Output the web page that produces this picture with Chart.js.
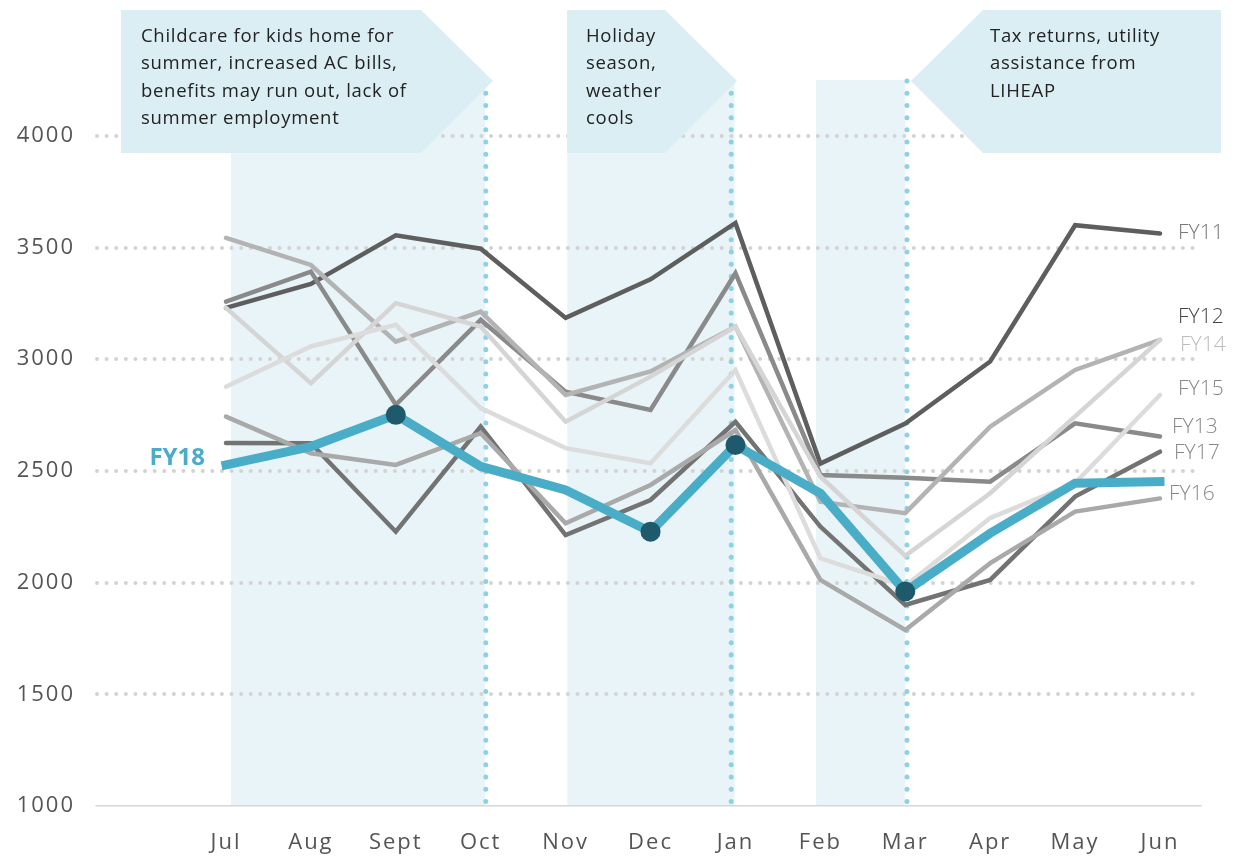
<!DOCTYPE html>
<html>
<head>
<meta charset="utf-8">
<title>Monthly requests FY11-FY18</title>
<script src="https://cdn.jsdelivr.net/npm/chart.js@4.4.1/dist/chart.umd.min.js"></script>
<style>
    html, body { margin: 0; padding: 0; background: #fff; }
    #wrap { width: 1236px; height: 858px; }
</style>
</head>
<body>
<div id="wrap"><canvas id="chart" width="1236" height="858"></canvas></div>
<script>
// Data
const months = ['Jul', 'Aug', 'Sept', 'Oct', 'Nov', 'Dec', 'Jan', 'Feb', 'Mar', 'Apr', 'May', 'Jun'];
const yTicks = [1000, 1500, 2000, 2500, 3000, 3500, 4000];

const fy11 = [3230, 3337, 3555, 3495, 3185, 3358, 3610, 2533, 2712, 2990, 3600, 3563];
const fy12 = [3543, 3422, 3079, 3213, 2840, 2945, 3146, 2362, 2311, 2698, 2952, 3087];
const fy13 = [3258, 3392, 2796, 3176, 2855, 2773, 3385, 2482, 2469, 2452, 2713, 2654];
const fy14 = [3230, 2893, 3251, 3146, 2720, 2922, 3146, 2475, 2120, 2400, 2744, 3087];
const fy15 = [2877, 3057, 3154, 2781, 2602, 2534, 2952, 2109, 1985, 2289, 2446, 2840];
const fy16 = [2743, 2579, 2527, 2669, 2266, 2437, 2683, 2012, 1788, 2087, 2318, 2377];
const fy17 = [2625, 2624, 2228, 2698, 2213, 2370, 2720, 2251, 1900, 2012, 2385, 2586];
const fy18 = [2527, 2609, 2751, 2520, 2415, 2228, 2616, 2400, 1960, 2221, 2445, 2452];
const fy18Marked = ['Sept', 'Dec', 'Jan', 'Mar'];

const FONT = '"Open Sans", "Noto Sans", sans-serif';

// Shaded periods and dotted markers (in x-axis units)
const bands = [
    { from: 0.06, to: 3.05 },
    { from: 4.02, to: 5.99 },
    { from: 6.95, to: 8.0 }
];
const markers = [3.06, 5.95, 8.02];

const callouts = [
    { pts: [[121, 10], [421, 10], [493, 81], [421, 153], [121, 153]], x: 141,
      lines: ['Childcare for kids home for', 'summer, increased AC bills,', 'benefits may run out, lack of', 'summer employment'] },
    { pts: [[567, 10], [665, 10], [737, 81], [665, 153], [567, 153]], x: 586,
      lines: ['Holiday', 'season,', 'weather', 'cools'] },
    { pts: [[911, 81], [983, 10], [1221, 10], [1221, 153], [983, 153]], x: 990,
      lines: ['Tax returns, utility', 'assistance from', 'LIHEAP'] }
];

function series(label, values, color, labelColor, dx, dy) {
    return {
        label: label,
        data: values.map((v, i) => ({ x: i, y: v })),
        borderColor: color,
        borderWidth: 4.5,
        borderCapStyle: 'round',
        pointRadius: 0,
        tension: 0,
        order: 1,
        endLabel: { color: labelColor, dx: dx, dy: dy }
    };
}

const datasets = [
    {
        label: 'FY18',
        data: fy18.map((v, i) => ({ x: i, y: v })),
        borderColor: '#4aadc7',
        borderWidth: 9,
        borderCapStyle: 'square',
        pointRadius: ctx => fy18Marked.includes(months[ctx.dataIndex]) ? 10 : 0,
        pointBackgroundColor: '#1e5a6b',
        pointBorderWidth: 0,
        tension: 0,
        order: 0
    },
    series('FY15', fy15, '#dcdcdc', '#888', 18, -6),
    series('FY14', fy14, '#d5d5d5', '#bdbdbd', 20, 5),
    series('FY12', fy12, '#b3b3b3', '#444', 18, -23),
    series('FY16', fy16, '#a9a9a9', '#888', 9, -4),
    series('FY13', fy13, '#8a8a8a', '#888', 12, -10),
    series('FY17', fy17, '#737373', '#888', 14, 1),
    series('FY11', fy11, '#5e5e5e', '#777', 18, 0)
];

const backdrop = {
    id: 'backdrop',
    beforeDraw(chart) {
        const { ctx, scales: { x }, chartArea } = chart;
        ctx.save();
        ctx.fillStyle = '#e8f4f8';
        bands.forEach(b => {
            const x1 = x.getPixelForValue(b.from);
            const x2 = x.getPixelForValue(b.to);
            ctx.fillRect(x1, chartArea.top, x2 - x1, chartArea.bottom - chartArea.top);
        });
        ctx.restore();
        // round dots for the dotted grid, wider letters for the axis labels
        ctx.lineCap = 'round';
        ctx.letterSpacing = '2px';
    },
    beforeDatasetsDraw(chart) {
        const { ctx, scales: { x }, chartArea } = chart;
        ctx.letterSpacing = '0px';
        ctx.save();
        ctx.strokeStyle = '#8fd0e2';
        ctx.lineWidth = 5;
        ctx.lineCap = 'round';
        ctx.setLineDash([0.01, 12.2]);
        markers.forEach(m => {
            const px = x.getPixelForValue(m);
            ctx.beginPath();
            ctx.moveTo(px, chartArea.top + 1);
            ctx.lineTo(px, chartArea.bottom);
            ctx.stroke();
        });
        ctx.restore();
    },
    afterDatasetsDraw(chart) {
        const { ctx, scales: { x, y } } = chart;
        ctx.save();
        ctx.textBaseline = 'middle';
        chart.data.datasets.forEach(ds => {
            const last = ds.data[ds.data.length - 1];
            if (ds.endLabel) {
                ctx.font = '300 21px ' + FONT;
                ctx.fillStyle = ds.endLabel.color;
                ctx.textAlign = 'left';
                ctx.fillText(ds.label, x.getPixelForValue(last.x) + ds.endLabel.dx, y.getPixelForValue(last.y) + ds.endLabel.dy);
            } else {
                const first = ds.data[0];
                ctx.font = 'bold 24px ' + FONT;
                ctx.fillStyle = ds.borderColor;
                ctx.textAlign = 'right';
                ctx.fillText(ds.label, x.getPixelForValue(first.x) - 21, y.getPixelForValue(first.y) - 7);
            }
        });
        ctx.restore();
    },
    afterDraw(chart) {
        const ctx = chart.ctx;
        ctx.save();
        callouts.forEach(c => {
            ctx.fillStyle = '#dbeef4';
            ctx.beginPath();
            c.pts.forEach((p, i) => i ? ctx.lineTo(p[0], p[1]) : ctx.moveTo(p[0], p[1]));
            ctx.closePath();
            ctx.fill();
            ctx.fillStyle = '#222';
            ctx.font = '18.5px ' + FONT;
            ctx.letterSpacing = '0.7px';
            ctx.textAlign = 'left';
            ctx.textBaseline = 'alphabetic';
            c.lines.forEach((t, i) => ctx.fillText(t, c.x, 41.5 + i * 27.6));
        });
        ctx.restore();
    }
};

new Chart(document.getElementById('chart').getContext('2d'), {
    type: 'line',
    data: { datasets: datasets },
    options: {
        responsive: false,
        devicePixelRatio: 1,
        animation: false,
        events: [],
        layout: { padding: { top: 80, right: 36, left: 0, bottom: 0 } },
        plugins: { legend: { display: false }, tooltip: { enabled: false } },
        scales: {
            x: {
                type: 'linear',
                min: -1.519,
                max: 11.471,
                afterBuildTicks: scale => { scale.ticks = months.map((m, i) => ({ value: i })); },
                afterFit: scale => { scale.height = 52; },
                grid: { display: false, drawTicks: false },
                border: { display: true, color: '#d6d6d6', width: 1.5 },
                ticks: {
                    callback: v => months[v],
                    color: '#555',
                    padding: 24,
                    maxRotation: 0,
                    autoSkip: false,
                    font: { family: FONT, size: 22 }
                }
            },
            y: {
                min: 1000,
                max: 4250,
                afterBuildTicks: scale => { scale.ticks = yTicks.map(v => ({ value: v })); },
                afterFit: scale => { scale.width = 97; },
                grid: {
                    drawTicks: false,
                    lineWidth: 4,
                    color: ctx => (ctx.tick && ctx.tick.value === yTicks[0]) ? 'rgba(0,0,0,0)' : '#d3d3d3'
                },
                border: { display: false, dash: [0.01, 9.6] },
                ticks: {
                    callback: v => String(v),
                    color: '#555',
                    padding: 22,
                    font: { family: FONT, size: 22 }
                }
            }
        }
    },
    plugins: [backdrop]
});
</script>
</body>
</html>
